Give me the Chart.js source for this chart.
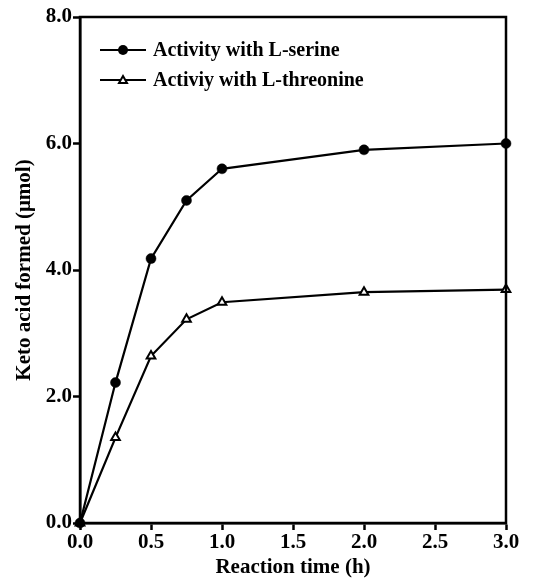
<!DOCTYPE html>
<html>
<head>
<meta charset="utf-8">
<script src="https://cdn.jsdelivr.net/npm/chart.js@4.4.1/dist/chart.umd.min.js"></script>
<style>
  html, body { margin: 0; padding: 0; background: #fff; }
  #wrap { width: 534px; height: 582px; }
</style>
</head>
<body>
<div id="wrap"><canvas id="myChart" width="534" height="582"></canvas></div>
<script>
// reaction time (h)
const times = [0, 0.25, 0.5, 0.75, 1.0, 2.0, 3.0];
// keto acid formed (umol)
const serine = [0, 2.22, 4.18, 5.1, 5.6, 5.9, 6.0];
const threonine = [0, 1.35, 2.64, 3.22, 3.49, 3.65, 3.69];
const seriesNames = ['Activity with L-serine', 'Activiy with L-threonine'];
const yTicks = [0, 2, 4, 6, 8];
const xTicks = [0, 0.5, 1.0, 1.5, 2.0, 2.5, 3.0];

const FONT = {family: '"Liberation Serif", "Times New Roman", serif', size: 21, weight: 'bold'};

function toPts(ys) {
  return times.map((t, i) => ({x: t, y: ys[i]}));
}

// box round the plot + legend inside the plot
const framePlugin = {
  id: 'frame',
  afterDraw(chart) {
    const {ctx, chartArea: a} = chart;
    ctx.save();
    ctx.strokeStyle = '#000';
    ctx.lineWidth = 2.5;
    ctx.strokeRect(a.left, a.top, a.right - a.left, a.bottom - a.top);

    // legend
    ctx.font = 'bold 20px "Liberation Serif", serif';
    ctx.textBaseline = 'middle';
    chart.data.datasets.forEach((ds, i) => {
      const y = 50 + i * 30;
      const x0 = 100, x1 = 146, xm = 123;
      ctx.beginPath();
      ctx.moveTo(x0, y);
      ctx.lineTo(x1, y);
      ctx.lineWidth = 2;
      ctx.strokeStyle = '#000';
      ctx.stroke();
      if (ds.pointStyle === 'triangle') {
        ctx.beginPath();
        ctx.moveTo(xm, y - 4);
        ctx.lineTo(xm + 4, y + 3);
        ctx.lineTo(xm - 4, y + 3);
        ctx.closePath();
        ctx.fillStyle = '#fff';
        ctx.fill();
        ctx.stroke();
      } else {
        ctx.beginPath();
        ctx.arc(xm, y, 5, 0, Math.PI * 2);
        ctx.fillStyle = '#000';
        ctx.fill();
      }
      ctx.fillStyle = '#000';
      ctx.fillText(ds.label, 153, y + 1);
    });
    ctx.restore();
  }
};

const ctx = document.getElementById('myChart').getContext('2d');
const myChart = new Chart(ctx, {
  type: 'line',
  data: {
    datasets: [
      {
        label: seriesNames[0],
        data: toPts(serine),
        borderColor: '#000',
        borderWidth: 2.2,
        backgroundColor: '#000',
        pointStyle: 'circle',
        pointRadius: 5,
        pointBorderWidth: 0.5,
        pointBorderColor: '#000',
        pointBackgroundColor: '#000',
        clip: false
      },
      {
        label: seriesNames[1],
        data: toPts(threonine),
        borderColor: '#000',
        borderWidth: 2.2,
        pointStyle: 'triangle',
        pointRadius: 5,
        pointBorderWidth: 2,
        pointBorderColor: '#000',
        pointBackgroundColor: '#fff',
        clip: false
      }
    ]
  },
  options: {
    responsive: false,
    animation: false,
    layout: {padding: {top: 17, right: 28, left: 12, bottom: 0}},
    plugins: {
      legend: {display: false},
      tooltip: {enabled: false}
    },
    scales: {
      x: {
        type: 'linear',
        min: 0,
        max: 3,
        afterFit(s) { s.height = 59; },
        afterBuildTicks(s) { s.ticks = xTicks.map(v => ({value: v})); },
        border: {display: true, color: '#000', width: 2.5},
        grid: {drawOnChartArea: false, drawTicks: true, tickLength: 7, tickColor: '#000', tickWidth: 2.5},
        ticks: {
          color: '#000',
          font: FONT,
          padding: 0,
          maxRotation: 0,
          callback: v => v.toFixed(1)
        },
        title: {display: true, text: 'Reaction time (h)', color: '#000', font: FONT, padding: {top: 0, bottom: 2}}
      },
      y: {
        type: 'linear',
        min: 0,
        max: 8,
        afterFit(s) { s.width = 68; },
        afterBuildTicks(s) { s.ticks = yTicks.map(v => ({value: v})); },
        border: {display: true, color: '#000', width: 2.5},
        grid: {drawOnChartArea: false, drawTicks: true, tickLength: 7, tickColor: '#000', tickWidth: 2.5},
        ticks: {
          color: '#000',
          font: FONT,
          padding: 1,
          callback: v => v.toFixed(1)
        },
        title: {display: true, text: 'Keto acid formed (μmol)', color: '#000', font: FONT, padding: {top: 0, bottom: 2}}
      }
    }
  },
  plugins: [framePlugin]
});
</script>
</body>
</html>
